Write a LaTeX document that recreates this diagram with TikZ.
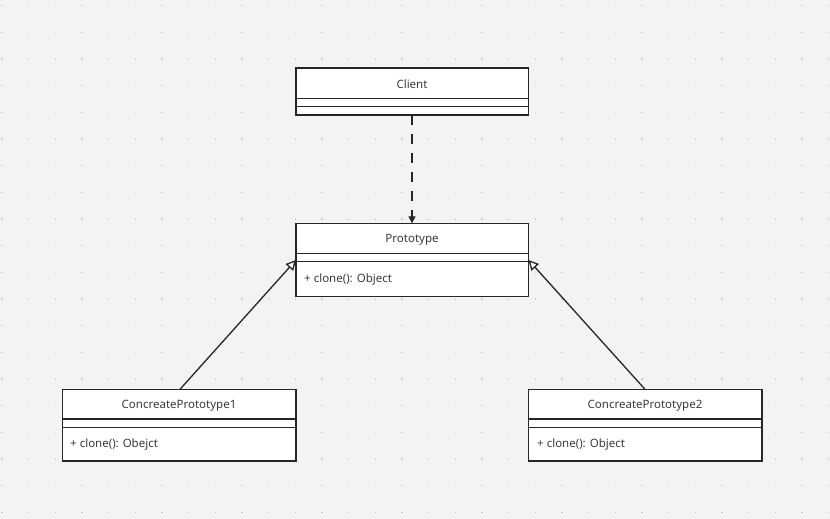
\documentclass[tikz,border=0pt]{standalone}
\usepackage{fontspec}
\setmainfont{Noto Sans}
\usetikzlibrary{arrows.meta}
\definecolor{bg}{HTML}{F3F3F4}
\definecolor{dotc}{HTML}{CDCDD1}
\definecolor{linec}{HTML}{262626}
\definecolor{txt}{HTML}{3A3A3A}
\begin{document}
\begin{tikzpicture}[x=1pt,y=-1pt,
  box/.style={draw=linec,line width=1.4pt,fill=white},
  lbl/.style={text=txt,font=\fontsize{11.5}{13}\selectfont,inner sep=0pt},
  conn/.style={draw=linec,line width=1.3pt}]
\fill[bg] (0,0) rectangle (830,519);
\useasboundingbox (0,0) rectangle (830,519);
\foreach \i in {0,...,31}{\foreach \j in {0,...,19}{
  \fill[dotc] ({2+26.67*\i-0.7},{5.7+26.67*\j-0.7}) rectangle ++(1.4,1.4);}}
% Client
\draw[box] (296,68) rectangle (528.5,115);
\draw[box] (296,98.3) -- (528.5,98.3);
\draw[box] (296,106.7) -- (528.5,106.7);
\node[lbl] (client) at (412,84) {Client};
\coordinate (clientb) at (412,115);
% Prototype
\draw[box] (296,223.3) rectangle (528.5,296.7);
\draw[box] (296,253.3) -- (528.5,253.3);
\draw[box] (296,261.7) -- (528.5,261.7);
\node[lbl] (proto) at (412,239.5) {Prototype};
\node[lbl,anchor=west] (protom) at (304,279.5) {+ clone(): Object};
\coordinate (protot) at (412,223.3);
\coordinate (protol) at (296,260);
\coordinate (protor) at (528.5,260);
% Concrete 1
\draw[box] (62.5,389.3) rectangle (296,461);
\draw[box] (62.5,419) -- (296,419);
\draw[box] (62.5,427.3) -- (296,427.3);
\node[lbl] (c1) at (179,405.5) {ConcreatePrototype1};
\node[lbl,anchor=west] (c1m) at (70,444.5) {+ clone(): Obejct};
\coordinate (c1t) at (180,389.3);
% Concrete 2
\draw[box] (528.5,389.3) rectangle (762,461);
\draw[box] (528.5,419) -- (762,419);
\draw[box] (528.5,427.3) -- (762,427.3);
\node[lbl] (c2) at (645,405.5) {ConcreatePrototype2};
\node[lbl,anchor=west] (c2m) at (537,444.5) {+ clone(): Object};
\coordinate (c2t) at (645,389.3);
% connectors
\draw[conn,dash pattern=on 10pt off 9pt,-{Triangle[length=7pt,width=7pt]}] (clientb) -- (protot);
\draw[conn,-{Triangle[open,length=10pt,width=10pt,fill=white]}] (c1t) -- (protol);
\draw[conn,-{Triangle[open,length=10pt,width=10pt,fill=white]}] (c2t) -- (protor);
\end{tikzpicture}
\end{document}
